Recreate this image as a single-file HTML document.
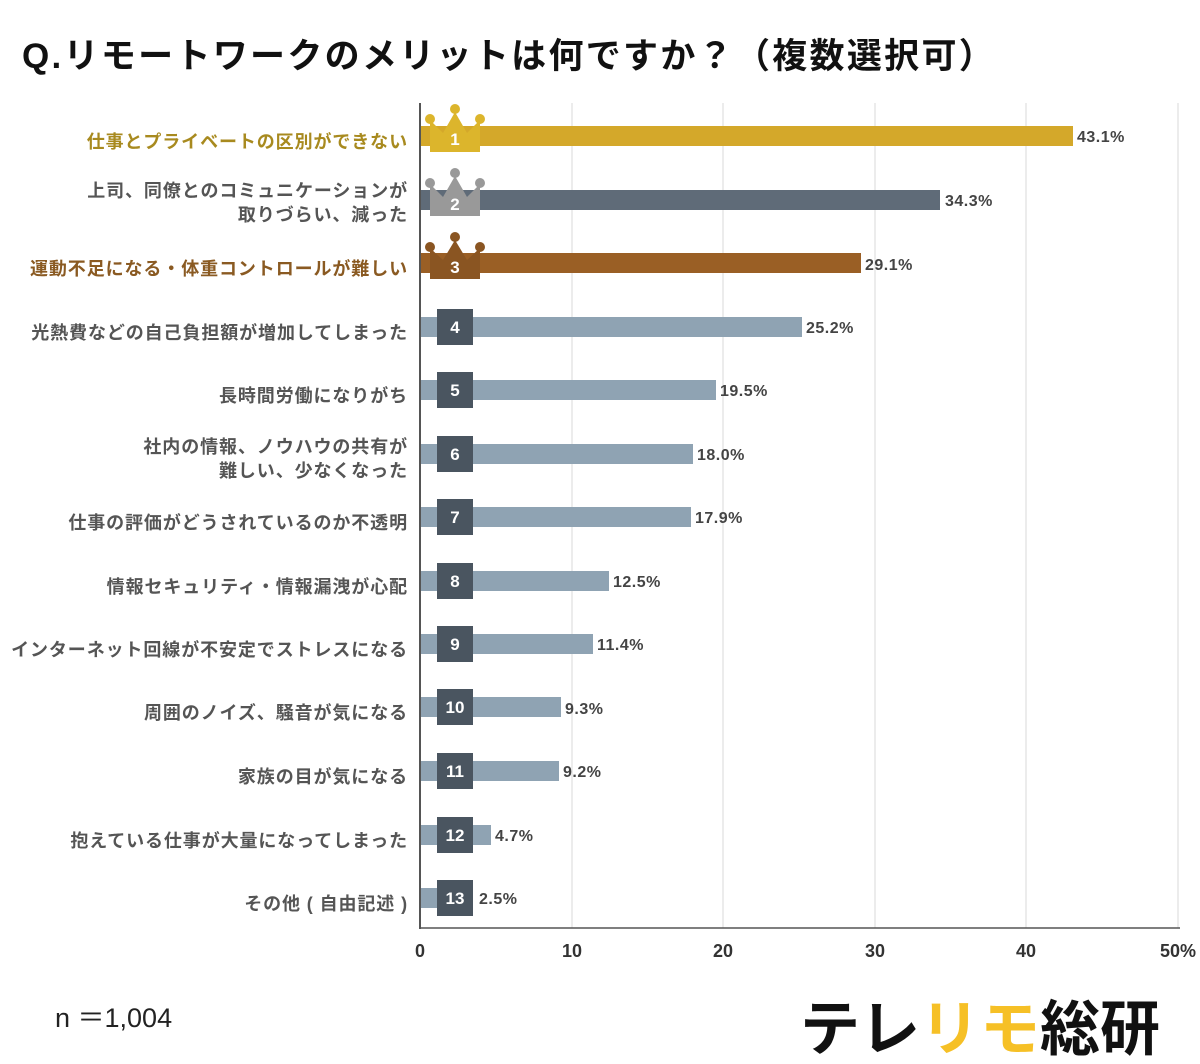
<!DOCTYPE html>
<html><head><meta charset="utf-8"><style>
body{margin:0;background:#fff;}
svg text{font-family:"Liberation Sans","Noto Sans CJK JP",sans-serif;}
</style></head><body>
<svg width="1200" height="1059" viewBox="0 0 1200 1059" xmlns="http://www.w3.org/2000/svg">
<text x="22" y="68" font-size="35" font-weight="bold" fill="#111" letter-spacing="2.3">Q.リモートワークのメリットは何ですか？（複数選択可）</text>
<g stroke="#e6e6e6" stroke-width="1.5">
<line x1="572" y1="103" x2="572" y2="928"/><line x1="723" y1="103" x2="723" y2="928"/>
<line x1="875" y1="103" x2="875" y2="928"/><line x1="1026" y1="103" x2="1026" y2="928"/>
<line x1="1178" y1="103" x2="1178" y2="928"/>
</g>
<g font-size="18" font-weight="bold" fill="#555" text-anchor="end" letter-spacing="0.9">
<text x="408" y="148" fill="#a88a1f">仕事とプライベートの区別ができない</text>
<text x="408" y="197">上司、同僚とのコミュニケーションが</text>
<text x="408" y="221">取りづらい、減った</text>
<text x="408" y="275" fill="#8a5a22">運動不足になる・体重コントロールが難しい</text>
<text x="408" y="339">光熱費などの自己負担額が増加してしまった</text>
<text x="408" y="402">長時間労働になりがち</text>
<text x="408" y="453">社内の情報、ノウハウの共有が</text>
<text x="408" y="477">難しい、少なくなった</text>
<text x="408" y="529">仕事の評価がどうされているのか不透明</text>
<text x="408" y="593">情報セキュリティ・情報漏洩が心配</text>
<text x="408" y="656">インターネット回線が不安定でストレスになる</text>
<text x="408" y="719">周囲のノイズ、騒音が気になる</text>
<text x="408" y="783">家族の目が気になる</text>
<text x="408" y="847">抱えている仕事が大量になってしまった</text>
<text x="408" y="910">その他 ( 自由記述 )</text>
</g>
<g>
<rect x="420" y="126" width="653" height="20" fill="#d4a82a"/>
<rect x="420" y="190" width="520" height="20" fill="#5f6b78"/>
<rect x="420" y="253" width="441" height="20" fill="#9a5f25"/>
<rect x="420" y="317" width="382" height="20" fill="#8fa3b3"/>
<rect x="420" y="380" width="296" height="20" fill="#8fa3b3"/>
<rect x="420" y="444" width="273" height="20" fill="#8fa3b3"/>
<rect x="420" y="507" width="271" height="20" fill="#8fa3b3"/>
<rect x="420" y="571" width="189" height="20" fill="#8fa3b3"/>
<rect x="420" y="634" width="173" height="20" fill="#8fa3b3"/>
<rect x="420" y="697" width="141" height="20" fill="#8fa3b3"/>
<rect x="420" y="761" width="139" height="20" fill="#8fa3b3"/>
<rect x="420" y="825" width="71" height="20" fill="#8fa3b3"/>
<rect x="420" y="888" width="38" height="20" fill="#8fa3b3"/>
</g>
<g font-size="16" font-weight="bold" fill="#444" letter-spacing="0.5">
<text x="1077" y="142">43.1%</text><text x="945" y="206">34.3%</text>
<text x="865" y="270">29.1%</text><text x="806" y="333">25.2%</text>
<text x="720" y="396">19.5%</text><text x="697" y="460">18.0%</text>
<text x="695" y="523">17.9%</text><text x="613" y="587">12.5%</text>
<text x="597" y="650">11.4%</text><text x="565" y="714">9.3%</text>
<text x="563" y="777">9.2%</text><text x="495" y="841">4.7%</text>
<text x="479" y="904">2.5%</text>
</g>
<g>
<g fill="#dcb52c"><polygon points="430,152 430,120 443,133 455,112 467,133 480,120 480,152"/><circle cx="430" cy="119" r="5"/><circle cx="455" cy="109" r="5"/><circle cx="480" cy="119" r="5"/></g>
<g fill="#999"><polygon points="430,216 430,184 443,197 455,176 467,197 480,184 480,216"/><circle cx="430" cy="183" r="5"/><circle cx="455" cy="173" r="5"/><circle cx="480" cy="183" r="5"/></g>
<g fill="#8a5522"><polygon points="430,279 430,248 443,260 455,240 467,260 480,248 480,279"/><circle cx="430" cy="247" r="5"/><circle cx="455" cy="237" r="5"/><circle cx="480" cy="247" r="5"/></g>
</g>
<g fill="#4a5560">
<rect x="437" y="309" width="36" height="36"/><rect x="437" y="372" width="36" height="36"/>
<rect x="437" y="436" width="36" height="36"/><rect x="437" y="499" width="36" height="36"/>
<rect x="437" y="563" width="36" height="36"/><rect x="437" y="626" width="36" height="36"/>
<rect x="437" y="689" width="36" height="36"/><rect x="437" y="753" width="36" height="36"/>
<rect x="437" y="817" width="36" height="36"/><rect x="437" y="880" width="36" height="36"/>
</g>
<g font-size="17" font-weight="bold" fill="#fff" text-anchor="middle">
<text x="455" y="145">1</text><text x="455" y="210">2</text><text x="455" y="273">3</text>
<text x="455" y="333">4</text><text x="455" y="396">5</text><text x="455" y="460">6</text>
<text x="455" y="523">7</text><text x="455" y="587">8</text><text x="455" y="650">9</text>
<text x="455" y="713">10</text><text x="455" y="777">11</text><text x="455" y="841">12</text>
<text x="455" y="904">13</text>
</g>
<line x1="420" y1="103" x2="420" y2="929" stroke="#555" stroke-width="2"/>
<line x1="420" y1="928" x2="1180" y2="928" stroke="#555" stroke-width="1.5"/>
<g font-size="18" font-weight="bold" fill="#333" text-anchor="middle">
<text x="420" y="957">0</text><text x="572" y="957">10</text><text x="723" y="957">20</text>
<text x="875" y="957">30</text><text x="1026" y="957">40</text><text x="1178" y="957">50%</text>
</g>
<text x="55" y="1027" font-size="27" fill="#222">n ＝1,004</text>
<text x="800" y="1050" font-size="60" font-weight="bold" fill="#111">テレ<tspan fill="#f6c026">リモ</tspan>総研</text>
</svg>
</body></html>
